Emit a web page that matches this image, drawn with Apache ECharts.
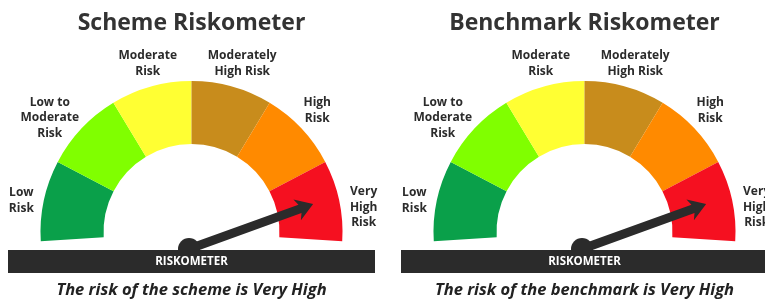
<!DOCTYPE html>
<html>
<head>
<meta charset="utf-8">
<script src="https://cdn.jsdelivr.net/npm/echarts@6/dist/echarts.min.js"></script>
<style>
  html, body { margin: 0; padding: 0; background: #fff; }
  #chart { width: 765px; height: 300px; }
</style>
</head>
<body>
<div id="chart"></div>
<script>
// risk bands, left to right round the dial
const riskLevels = ['Low\nRisk', 'Low to\nModerate\nRisk', 'Moderate\nRisk', 'Moderately\nHigh Risk', 'High\nRisk', 'Very\nHigh\nRisk'];
const bandShare = [1, 1, 1, 1, 1, 1];
// two meters
const meterTitles = ['Scheme Riskometer', 'Benchmark Riskometer'];
const meterCaptions = ['The risk of the scheme is Very High', 'The risk of the benchmark is Very High'];
const needleValues = [5.25, 5.25]; // on a 0..6 scale

const bandColors = ['#0aa04a', '#80ff00', '#ffff33', '#c88c1c', '#ff8a00', '#f51020'];
const labelNudge = [[0, 5], [-15, 5], [3, -1], [4, -1], [-1, -2], [2, 12]];

const START = 183.5, END = -3.5;
const DX = 393; // spacing between the two meters
const FONT = '"Open Sans", sans-serif';
const INK = '#2b2b2b';

const chart = echarts.init(document.getElementById('chart'), null, { renderer: 'canvas' });

const series = [];
const graphic = [];
meterTitles.forEach((title, m) => {
  const cx = 191.5 + m * DX;
  // colored bands
  series.push({
    type: 'pie',
    silent: true,
    z: 1,
    center: [cx, 232],
    radius: [88, 151],
    startAngle: START,
    endAngle: END,
    clockwise: true,
    label: { show: false },
    labelLine: { show: false },
    data: bandShare.map((v, i) => ({ value: v, name: riskLevels[i], itemStyle: { color: bandColors[i] } }))
  });
  // band names, on an invisible ring outside the dial
  series.push({
    type: 'pie',
    silent: true,
    z: 1,
    center: [cx, 232],
    radius: [166, 176],
    startAngle: START,
    endAngle: END,
    itemStyle: { color: 'rgba(0,0,0,0)' },
    label: {
      show: true,
      position: 'inside',
      rotate: 0,
      formatter: '{b}',
      color: INK,
      fontFamily: FONT,
      fontWeight: 'bold',
      fontSize: 12,
      lineHeight: 15.5,
      align: 'center'
    },
    labelLine: { show: false },
    labelLayout: (p) => ({ dx: labelNudge[p.dataIndex][0], dy: labelNudge[p.dataIndex][1] }),
    data: bandShare.map((v, i) => ({ value: v, name: riskLevels[i] }))
  });
  // needle
  series.push({
    type: 'gauge',
    silent: true,
    z: 4,
    center: [cx - 2.5, 249],
    radius: 132,
    startAngle: START,
    endAngle: END,
    min: 0,
    max: 6,
    axisLine: { show: false },
    splitLine: { show: false },
    axisTick: { show: false },
    axisLabel: { show: false },
    progress: { show: false },
    title: { show: false },
    detail: { show: false },
    pointer: {
      icon: 'path://M11,0 L22,17 L15.5,14 L15.5,132 L6.5,132 L6.5,14 L0,17 Z',
      length: 132,
      width: 22,
      keepAspect: false,
      itemStyle: { color: INK }
    },
    anchor: { show: true, showAbove: true, size: 22, itemStyle: { color: INK } },
    data: [{ value: needleValues[m] }]
  });

  graphic.push(
    {
      type: 'text', x: cx, y: 23, z: 10,
      style: { text: title, fill: '#333333', font: 'bold 23px ' + FONT, textAlign: 'center', textVerticalAlign: 'middle' }
    },
    {
      type: 'rect', z: 5,
      shape: { x: 8 + m * DX, y: 250, width: 367, height: 23 },
      style: { fill: INK }
    },
    {
      type: 'text', x: cx, y: 262, z: 10,
      style: { text: 'RISKOMETER', fill: '#ffffff', font: 'bold 11.5px ' + FONT, textAlign: 'center', textVerticalAlign: 'middle' }
    },
    {
      type: 'text', x: cx, y: 290, z: 10,
      style: { text: meterCaptions[m], fill: '#222222', font: 'italic bold 16.5px ' + FONT, textAlign: 'center', textVerticalAlign: 'middle' }
    }
  );
});

chart.setOption({
  animation: false,
  backgroundColor: '#ffffff',
  series: series,
  graphic: graphic
});
</script>
</body>
</html>
